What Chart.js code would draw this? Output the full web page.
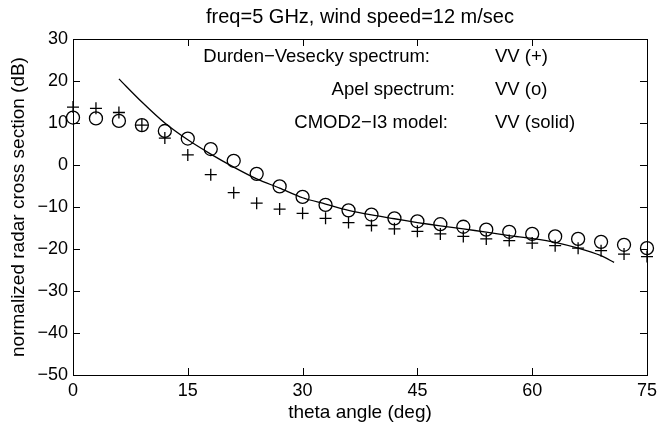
<!DOCTYPE html>
<html><head><meta charset="utf-8">
<script src="https://cdn.jsdelivr.net/npm/chart.js@4"></script>
<style>html,body{margin:0;padding:0;background:#fff}#wrap{width:662px;height:429px}</style>
</head><body><div id="wrap"><canvas id="c" width="662" height="429"></canvas></div>
<script>
const angles = [0,3,6,9,12,15,18,21,24,27,30,33,36,39,42,45,48,51,54,57,60,63,66,69,72,75];
const durdenVV = [13.8,13.5,12.5,9.5,6.4,2.4,-2.3,-6.6,-9.1,-10.5,-11.5,-12.7,-13.7,-14.4,-15.2,-15.8,-16.4,-17.0,-17.6,-18.0,-18.6,-19.2,-19.8,-20.4,-21.2,-21.8];
const apelVV = [11.3,11.1,10.5,9.5,8.1,6.3,3.8,1.0,-2.1,-5.1,-7.6,-9.5,-10.8,-11.8,-12.7,-13.4,-14.1,-14.7,-15.4,-15.9,-16.4,-17.0,-17.6,-18.3,-19.0,-19.8];
const cmodAngles = [6,9,12,15,18,21,24,27,30,33,36,39,42,45,48,51,54,57,60,63,66,69,70.7];
const cmodVV = [20.5,15.0,10.0,6.0,2.6,-0.5,-3.3,-5.5,-7.8,-9.3,-10.8,-11.9,-12.8,-13.7,-14.5,-15.2,-16.0,-16.8,-17.5,-18.4,-19.8,-21.6,-23.2];
const xTicks = [0,15,30,45,60,75];
const yTicks = [-50,-40,-30,-20,-10,0,10,20,30];
const titleText = 'freq=5 GHz, wind speed=12 m/sec';
const xTitle = 'theta angle (deg)';
const yTitle = 'normalized radar cross section (dB)';
const legendRows = [
  ['Durden\u2212Vesecky spectrum:', 'VV (+)'],
  ['Apel spectrum:', 'VV (o)'],
  ['CMOD2\u2212I3 model:', 'VV (solid)']
];

const FONT = 'Liberation Sans, Arial, Helvetica, sans-serif';
const fmt = v => String(v).replace('-', '\u2212');

const frame = {
  id: 'frame',
  afterDraw(chart) {
    const ctx = chart.ctx, a = chart.chartArea;
    const xs = chart.scales.x, ys = chart.scales.y;
    ctx.save();
    ctx.strokeStyle = '#000';
    ctx.lineWidth = 1;
    ctx.strokeRect(Math.round(a.left)+0.5, Math.round(a.top)+0.5, Math.round(a.right-a.left), Math.round(a.bottom-a.top));
    const L = 7;
    ctx.beginPath();
    xTicks.forEach(v => {
      const px = Math.round(xs.getPixelForValue(v)) + 0.5;
      ctx.moveTo(px, a.bottom); ctx.lineTo(px, a.bottom - L);
      ctx.moveTo(px, a.top); ctx.lineTo(px, a.top + L);
    });
    yTicks.forEach(v => {
      const py = Math.round(ys.getPixelForValue(v)) + 0.5;
      ctx.moveTo(a.left, py); ctx.lineTo(a.left + L, py);
      ctx.moveTo(a.right, py); ctx.lineTo(a.right - L, py);
    });
    ctx.stroke();
    ctx.fillStyle = '#000';
    ctx.font = '18.5px ' + FONT;
    ctx.textBaseline = 'middle';
    const labelRight = [430, 455, 448];
    const rowY = [57, 90, 123];
    legendRows.forEach((r, i) => {
      ctx.textAlign = 'right';
      ctx.fillText(r[0], labelRight[i], rowY[i]);
      ctx.textAlign = 'left';
      ctx.fillText(r[1], 495, rowY[i]);
    });
    ctx.restore();
  }
};

new Chart(document.getElementById('c'), {
  type: 'scatter',
  data: {
    datasets: [
      {
        label: 'CMOD2-I3',
        type: 'line',
        data: cmodAngles.map((x, i) => ({x, y: cmodVV[i]})),
        borderColor: '#000', borderWidth: 1.3, pointRadius: 0, tension: 0.3, fill: false
      },
      {
        label: 'Durden-Vesecky',
        data: angles.map((x, i) => ({x, y: durdenVV[i]})),
        pointStyle: 'cross', pointRadius: 6, borderColor: '#000', borderWidth: 1.3, backgroundColor: 'transparent', clip: false
      },
      {
        label: 'Apel',
        data: angles.map((x, i) => ({x, y: apelVV[i]})),
        pointStyle: 'circle', pointRadius: 6.5, borderColor: '#000', borderWidth: 1.3, backgroundColor: 'transparent', clip: false
      }
    ]
  },
  options: {
    responsive: false, animation: false, devicePixelRatio: 1,
    layout: {padding: {left: 0, right: 10, top: 0, bottom: 0}},
    plugins: {
      legend: {display: false},
      tooltip: {enabled: false},
      title: {display: true, fullSize: false, text: titleText, color: '#000', font: {family: FONT, size: 20, weight: 'normal'}, padding: {top: 5, bottom: 10}}
    },
    scales: {
      x: {
        type: 'linear', min: 0, max: 75,
        afterBuildTicks: s => { s.ticks = xTicks.map(v => ({value: v})); },
        ticks: {color: '#000', font: {family: FONT, size: 18}, padding: 5, maxRotation: 0, callback: fmt},
        grid: {display: false, drawTicks: false},
        border: {display: false},
        title: {display: true, text: xTitle, color: '#000', font: {family: FONT, size: 19}, padding: {top: 0, bottom: 5}},
        afterFit: s => { s.height = 54; }
      },
      y: {
        min: -50, max: 30,
        afterBuildTicks: s => { s.ticks = yTicks.map(v => ({value: v})); },
        ticks: {color: '#000', font: {family: FONT, size: 18}, padding: 5, callback: fmt},
        grid: {display: false, drawTicks: false},
        border: {display: false},
        title: {display: true, text: yTitle, color: '#000', font: {family: FONT, size: 19}, padding: {top: 7, bottom: 2}},
        afterFit: s => { s.width = 73; }
      }
    }
  },
  plugins: [frame]
});
</script></body></html>
